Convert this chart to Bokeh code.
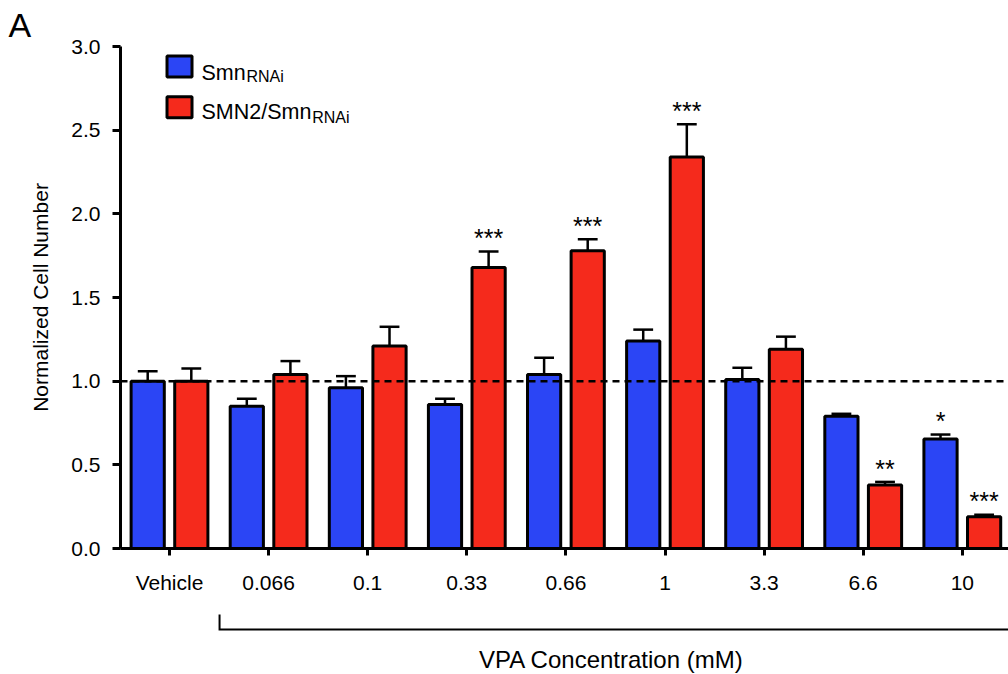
import numpy as np
from bokeh.plotting import figure
from bokeh.layouts import column
from bokeh.models import (ColumnDataSource, Range1d, FixedTicker, Span, Label,
                          PrintfTickFormatter)
from bokeh.core.properties import value
from bokeh.embed import file_html
from bokeh.resources import INLINE

# ---------------- data ----------------
categories = ["Vehicle", "0.066", "0.1", "0.33", "0.66", "1", "3.3", "6.6", "10"]
smn_rnai = [1.00, 0.85, 0.96, 0.86, 1.04, 1.24, 1.01, 0.79, 0.655]
smn_rnai_err = [0.06, 0.045, 0.07, 0.035, 0.10, 0.068, 0.07, 0.015, 0.026]
smn2_smn_rnai = [1.00, 1.04, 1.21, 1.68, 1.78, 2.34, 1.19, 0.38, 0.19]
smn2_smn_rnai_err = [0.076, 0.08, 0.115, 0.095, 0.068, 0.195, 0.076, 0.018, 0.012]
smn_rnai_sig = ["", "", "", "", "", "", "", "", "*"]
smn2_smn_rnai_sig = ["", "", "", "***", "***", "***", "", "**", "***"]
y_ticks = [0.0, 0.5, 1.0, 1.5, 2.0, 2.5, 3.0]
reference_level = 1.0

# ---------------- style ----------------
BLUE = "#2b45f5"
RED = "#f52a1c"
FONT = "Liberation Sans"
BAR_W = 0.335
OFFSET = 0.22
CAP_HALF = 0.1
STAR_GAP = 0.08

idx = np.arange(len(categories))
X_RANGE = (-0.4945, 8.466)

def series_source(vals, errs, sig, shift):
    v = np.array(vals)
    e = np.array(errs)
    xs = idx + shift
    return ColumnDataSource(dict(
        x=xs, top=v, cap=v + e, cx0=xs - CAP_HALF, cx1=xs + CAP_HALF,
        star_y=v + e + STAR_GAP, sig=sig,
    ))

src_b = series_source(smn_rnai, smn_rnai_err, smn_rnai_sig, -OFFSET)
src_r = series_source(smn2_smn_rnai, smn2_smn_rnai_err, smn2_smn_rnai_sig, OFFSET)

p = figure(width=1008, height=600, x_range=Range1d(*X_RANGE), y_range=Range1d(0, 3),
           output_backend="svg", toolbar_location=None,
           min_border_left=120, min_border_right=0, min_border_top=46, min_border_bottom=52)
p.outline_line_color = None
p.xgrid.visible = False
p.ygrid.visible = False

# panel letter as a left-aligned title pulled into the corner
p.title.text = "A"
p.title.align = "left"
p.title.offset = -112
p.title.standoff = 6
p.title.text_font = FONT
p.title.text_font_size = "34px"
p.title.text_font_style = "normal"
p.title.text_color = "black"
p.title.text_line_height = 1.0

for src, col in ((src_b, BLUE), (src_r, RED)):
    p.segment(x0="x", y0="top", x1="x", y1="cap", source=src, line_color="black", line_width=2.5)
    p.segment(x0="cx0", y0="cap", x1="cx1", y1="cap", source=src, line_color="black", line_width=2.5)
    p.vbar(x="x", top="top", bottom=0, width=BAR_W, source=src, fill_color=col,
           line_color="black", line_width=3)
    p.text(x="x", y="star_y", text="sig", source=src, text_align="center",
           text_baseline="alphabetic", text_font=value(FONT), text_font_size="25px",
           text_color="black")

p.add_layout(Span(location=reference_level, dimension="width", line_color="black",
                  line_width=2.5, line_dash="7 5"))

# axes
p.xaxis.ticker = FixedTicker(ticks=list(idx))
p.xaxis.major_label_overrides = {int(i): c for i, c in zip(idx, categories)}
p.yaxis.ticker = FixedTicker(ticks=y_ticks)
p.yaxis.formatter = PrintfTickFormatter(format="%.1f")
for ax in (p.xaxis[0], p.yaxis[0]):
    ax.axis_line_width = 3
    ax.major_tick_line_width = 3
    ax.major_tick_in = 0
    ax.minor_tick_line_color = None
    ax.major_label_text_font = FONT
    ax.major_label_text_font_size = "21px"
    ax.major_label_text_color = "black"
    ax.axis_line_color = "black"
    ax.major_tick_line_color = "black"
p.xaxis.major_tick_out = 7
p.yaxis.major_tick_out = 8
p.xaxis.major_label_standoff = 15
p.yaxis.major_label_standoff = 12
p.yaxis.axis_label = "Normalized Cell Number"
p.yaxis.axis_label_text_font = FONT
p.yaxis.axis_label_text_font_size = "21px"
p.yaxis.axis_label_text_font_style = "normal"
p.yaxis.axis_label_text_color = "black"
p.yaxis.axis_label_standoff = 16

# legend (manual, to allow subscripts)
leg_x = 0.101
leg_y = [2.881, 2.637]
p.rect(x=[leg_x, leg_x], y=leg_y, width=25, height=21, width_units="screen",
       height_units="screen", fill_color=[BLUE, RED], line_color="black", line_width=3)
legend_texts = [("Smn", 0.323, 2.842, 0.777, 2.818),
                ("SMN2/Smn", 0.323, 2.607, 1.44, 2.574)]
for main, tx, ty, sx, sy in legend_texts:
    p.add_layout(Label(x=tx, y=ty, text=main, text_font=FONT, text_font_size="21.5px",
                       text_baseline="alphabetic", text_color="black"))
    p.add_layout(Label(x=sx, y=sy, text="RNAi", text_font=FONT, text_font_size="16px",
                       text_baseline="alphabetic", text_color="black"))

# ---------------- bracket strip below ----------------
p2 = figure(width=1008, height=74, x_range=p.x_range, y_range=Range1d(0, 74),
            output_backend="svg", toolbar_location=None,
            x_axis_location=None, y_axis_location=None,
            min_border_left=120, min_border_right=0, min_border_top=0, min_border_bottom=0)
p2.outline_line_color = None
p2.xgrid.visible = False
p2.ygrid.visible = False
br_x = 0.505
p2.line(x=[br_x, br_x, 9.5], y=[60, 45, 45], line_color="black", line_width=2,
        line_join="miter")
p2.text(x=[4.46], y=[15], text=["VPA Concentration (mM)"], text_font=value(FONT),
        text_font_size="24px", text_align="center", text_baseline="middle",
        text_color="black")

layout = column(p, p2, spacing=0)
open("out.html", "w").write(file_html(layout, INLINE))
